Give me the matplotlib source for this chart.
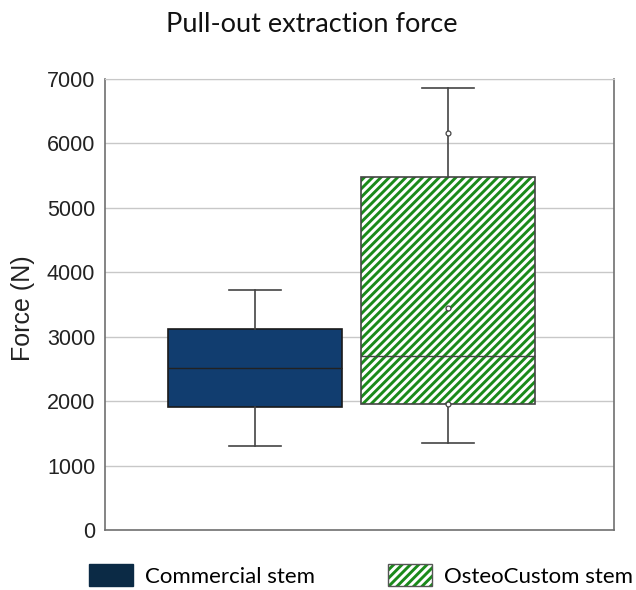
import matplotlib
matplotlib.use("Agg")
import matplotlib.pyplot as plt
from matplotlib.patches import Patch, PathPatch

# Summary statistics of pull-out extraction force (N)
groups = ["Commercial stem", "OsteoCustom stem"]
whisker_low = [1305, 1343]
q1 = [1903, 1950]
median = [2511, 2703]
q3 = [3118, 5480]
whisker_high = [3720, 6866]
# Individual values marked on the OsteoCustom box
custom_points = [6156, 3445, 1950]

y_ticks = [0, 1000, 2000, 3000, 4000, 5000, 6000, 7000]

GREEN = "#1a8a1a"
plt.rcParams["hatch.linewidth"] = 2.1

fig = plt.figure(figsize=(6.36, 5.90), dpi=100)
ax = fig.add_axes([105 / 636, 1 - 530 / 590, 509 / 636, 451 / 590])

stats = []
for i, name in enumerate(groups):
    stats.append(dict(label=name, whislo=whisker_low[i], q1=q1[i], med=median[i],
                      q3=q3[i], whishi=whisker_high[i], fliers=[]))

bp = ax.bxp(stats, positions=[1, 2], widths=0.903, patch_artist=True,
            showfliers=False,
            boxprops=dict(linewidth=1.2, edgecolor="#333333"),
            medianprops=dict(color="#222222", linewidth=1.0),
            whiskerprops=dict(color="#444444", linewidth=1.2),
            capprops=dict(color="#444444", linewidth=1.2),
            capwidths=0.27)
bp["boxes"][0].set_facecolor("#113d6f")
bp["boxes"][0].set_edgecolor("#1a1a1a")

# Hatched box: green stripes on white, with a separate grey outline on top
hatched = bp["boxes"][1]
hatched.set_facecolor("white")
hatched.set_edgecolor(GREEN)
hatched.set_linewidth(0)
hatched.set_hatch("////")
ax.add_patch(PathPatch(hatched.get_path(), transform=hatched.get_transform(),
                       fill=False, edgecolor="#444444", linewidth=1.2,
                       zorder=hatched.get_zorder() + 0.1))
bp["medians"][1].set_color("#444444")
bp["medians"][1].set_zorder(hatched.get_zorder() + 0.2)

ax.plot([2] * len(custom_points), custom_points, linestyle="none", marker="o",
        markersize=3.5, markerfacecolor="white", markeredgecolor="#444444",
        markeredgewidth=0.9, zorder=5)

ax.set_xlim(0.221, 2.864)
ax.set_ylim(0, 7000)
ax.set_yticks(y_ticks)
ax.set_xticks([])
ax.yaxis.grid(True, color="#c8c8c8", linewidth=1.0)
ax.set_axisbelow(True)
ax.tick_params(axis="y", length=0, pad=7, labelsize=15.5)
for lab in ax.get_yticklabels():
    lab.set_fontfamily("Liberation Sans")
    lab.set_color("#222222")
for side in ["left", "bottom", "right"]:
    ax.spines[side].set_color("#707070")
    ax.spines[side].set_linewidth(1.2)
ax.spines["top"].set_color("#c8c8c8")

fig.text(312 / 636, 1 - 25 / 590, "Pull-out extraction force", ha="center", va="center",
         fontsize=19.5, family="Lato", color="#111111")
fig.text(23 / 636, 1 - 308 / 590, "Force (N)", rotation=90, ha="center", va="center",
         fontsize=18, family="Liberation Sans", color="#222222")

handles = [Patch(facecolor="#0b2a45", edgecolor="#0b2a45"),
           (Patch(facecolor="white", edgecolor=GREEN, linewidth=0, hatch="////"),
            Patch(fill=False, edgecolor="#555555", linewidth=1.0))]
fig.legend(handles=handles, labels=groups, loc="center left",
           bbox_to_anchor=(89 / 636, 1 - 575.5 / 590),
           ncol=2, frameon=False, borderpad=0, borderaxespad=0,
           handlelength=1.98, handleheight=1.12, handletextpad=0.54, columnspacing=3.3,
           prop=dict(family="Lato", size=16))

fig.savefig("out.png", dpi=100)
